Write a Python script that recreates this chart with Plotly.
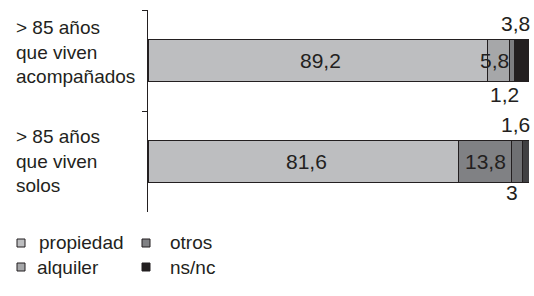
import plotly.graph_objects as go

categories = ["> 85 años<br>que viven<br>acompañados", "> 85 años<br>que viven<br>solos"]
series_names = ["propiedad", "alquiler", "otros", "ns/nc"]
propiedad = [89.2, 81.6]
alquiler = [5.8, 13.8]
otros = [1.2, 3.0]
nsnc = [3.8, 1.6]
values = [propiedad, alquiler, otros, nsnc]
colors = [["#bdbec0", "#bdbec0"], ["#a6a7a9", "#808184"], ["#7d7e81", "#6f7073"], ["#231f20", "#404042"]]
legend_colors = ["#bdbec0", "#a6a7a9", "#808184", "#231f20"]

def fmt(v):
    s = f"{v:.1f}".replace(".", ",")
    return s[:-2] if s.endswith(",0") else s

TXT = "#231f20"
FONT = "Liberation Sans, Arial, sans-serif"
fig = go.Figure()
for name, vals, col in zip(series_names, values, colors):
    fig.add_trace(go.Bar(y=categories, x=vals, orientation="h", name=name,
                         marker=dict(color=col, line=dict(color="#231f20", width=1)),
                         width=0.41, showlegend=False, hoverinfo="skip"))

ann = []
# value labels
for i, cat in enumerate(categories):
    cum = 0
    for j, vals in enumerate(values):
        v = vals[i]
        c = cum + v / 2
        if j == 0:
            ann.append(dict(x=c, y=cat, text=fmt(v), showarrow=False, xanchor="center", xshift=3))
        elif j == 1:
            if i == 0:
                ann.append(dict(x=cum + v, y=cat, text=fmt(v), showarrow=False, xanchor="right", xshift=1))
            else:
                ann.append(dict(x=c, y=cat, text=fmt(v), showarrow=False, xanchor="center"))
        elif j == 2:
            ann.append(dict(x=c, y=cat, text=fmt(v), showarrow=False, xanchor="center",
                            yshift=-34 if i == 0 else -31, xshift=-8 if i == 0 else -5))
        else:
            ann.append(dict(x=100, y=cat, text=fmt(v), showarrow=False, xanchor="right",
                            yshift=37, xshift=3))
        cum += v
for a in ann:
    a["font"] = dict(size=21, color=TXT, family=FONT)

# category labels
W = 381.0
H = 202.0
def px(xp):
    return (xp - 148) / W
def py(yp):
    return (212 - yp) / H

for i, cat in enumerate(categories):
    ann.append(dict(x=px(14), xref="paper", y=cat, yref="y", text=cat, showarrow=False,
                    xanchor="left", yanchor="middle", align="left",
                    yshift=9 if i == 0 else 1,
                    font=dict(size=19, color=TXT, family=FONT)))

# legend (2 columns: propiedad, otros / alquiler, ns/nc)
leg_pos = {"propiedad": (17, 243, 37), "otros": (142, 243, 168),
           "alquiler": (17, 267, 35), "ns/nc": (142, 267, 168)}
shapes = []
for name, col in zip(series_names, legend_colors):
    sx, sy, tx = leg_pos[name]
    shapes.append(dict(type="rect", xref="paper", yref="paper",
                       x0=px(sx), x1=px(sx + 8), y0=py(sy + 4), y1=py(sy - 4),
                       fillcolor=col, line=dict(color="#231f20", width=1)))
    ann.append(dict(x=px(tx), xref="paper", y=py(sy), yref="paper", text=name, showarrow=False,
                    xanchor="left", yanchor="middle",
                    font=dict(size=19, color=TXT, family=FONT)))

fig.update_layout(
    barmode="stack",
    width=534, height=296,
    margin=dict(l=148, r=5, t=10, b=84, autoexpand=False),
    paper_bgcolor="white", plot_bgcolor="white",
    xaxis=dict(range=[0, 100], visible=False, automargin=False),
    yaxis=dict(autorange="reversed", showticklabels=False, showline=True, linecolor="#231f20",
               linewidth=1, ticks="outside", tickson="boundaries", ticklen=5, tickcolor="#231f20",
               showgrid=False, zeroline=False, automargin=False),
    annotations=ann, shapes=shapes,
)
fig.write_html("out.html", config={"displayModeBar": False},
               post_script="document.body.style.margin='0';document.body.style.overflow='hidden';")
